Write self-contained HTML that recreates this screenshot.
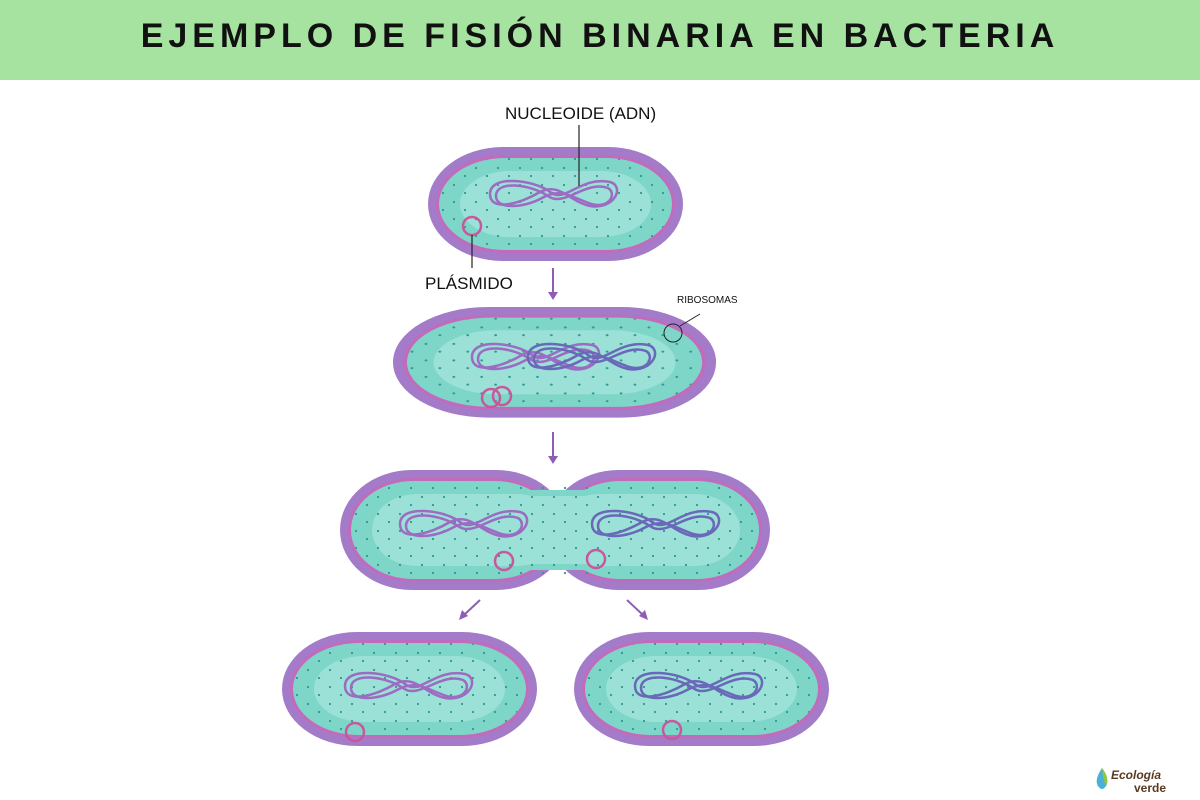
<!DOCTYPE html>
<html><head><meta charset="utf-8"><style>
body{margin:0;width:1200px;height:800px;background:#fff;overflow:hidden;font-family:"Liberation Sans",sans-serif}
.hdr{position:absolute;left:0;top:0;width:1200px;height:80px;background:#a6e3a1;text-align:center;line-height:72px;font-size:34px;font-weight:bold;letter-spacing:5px;color:#111}
svg{position:absolute;left:0;top:0}
</style></head><body>
<div class="hdr">EJEMPLO DE FISIÓN BINARIA EN BACTERIA</div>
<svg width="1200" height="800" viewBox="0 0 1200 800">
<defs>
<pattern id="dots" width="22" height="17" patternUnits="userSpaceOnUse"><circle cx="4" cy="4" r="1.1" fill="#2f9a8c"/><circle cx="15" cy="12" r="1.1" fill="#2f9a8c"/></pattern>
<g id="cell">
<rect x="0" y="0" width="255" height="114" rx="75" ry="57" fill="#a47bc8"/>
<rect x="8" y="8" width="239" height="98" rx="68" ry="49" fill="#c26bbd"/>
<rect x="11" y="11" width="233" height="92" rx="66" ry="46" fill="#7ed6c9"/>
<rect x="32" y="24" width="191" height="66" rx="50" ry="33" fill="#9be1d7"/>
<rect x="11" y="11" width="233" height="92" rx="66" ry="46" fill="url(#dots)"/>
</g>
<g id="dna" fill="none" stroke-width="2.5">
<path d="M0 12 C0 -8 45 -2 60 10 C75 22 90 -6 120 0 C135 4 125 28 100 24 C80 20 70 0 50 10 C30 22 0 30 0 12Z"/>
<path d="M6 14 C6 -2 40 2 58 14 C74 26 95 -2 118 6 C128 12 118 30 96 20 C80 14 70 6 52 16 C34 26 6 28 6 14Z"/>
</g>
</defs>
<use href="#cell" x="428" y="147"/>
<g stroke="#9b6cc2" transform="translate(490,182)"><use href="#dna"/></g>
<circle cx="472" cy="226" r="9" fill="none" stroke="#c9579e" stroke-width="2.5"/>
<line x1="579" y1="125" x2="579" y2="186" stroke="#222" stroke-width="1.2"/>
<line x1="472" y1="235" x2="472" y2="268" stroke="#222" stroke-width="1.2"/>
<text x="505" y="119" font-size="17" fill="#111">NUCLEOIDE (ADN)</text>
<text x="425" y="289" font-size="17" fill="#111">PLÁSMIDO</text>
<line x1="553" y1="268" x2="553" y2="294" stroke="#8d5db8" stroke-width="2"/><path d="M548 292 L553 300 L558 292Z" fill="#8d5db8"/>
<g transform="translate(393,307) scale(1.267,0.97)"><use href="#cell"/></g>
<g stroke="#9b6cc2" transform="translate(472,345)"><use href="#dna"/></g>
<g stroke="#6a68b8" transform="translate(528,345)"><use href="#dna"/></g>
<circle cx="491" cy="398" r="9" fill="none" stroke="#c9579e" stroke-width="2.5"/>
<circle cx="502" cy="396" r="9" fill="none" stroke="#c9579e" stroke-width="2.5"/>
<circle cx="673" cy="333" r="9" fill="none" stroke="#222" stroke-width="1"/>
<line x1="680" y1="326" x2="700" y2="314" stroke="#222" stroke-width="1"/>
<text x="677" y="303" font-size="10" fill="#111">RIBOSOMAS</text>
<line x1="553" y1="432" x2="553" y2="458" stroke="#8d5db8" stroke-width="2"/><path d="M548 456 L553 464 L558 456Z" fill="#8d5db8"/>
<rect x="340" y="470" width="228" height="120" rx="72" ry="60" fill="#a47bc8"/>
<rect x="547" y="470" width="223" height="120" rx="72" ry="60" fill="#a47bc8"/>
<rect x="348" y="478" width="212" height="104" rx="65" ry="52" fill="#c26bbd"/>
<rect x="555" y="478" width="207" height="104" rx="65" ry="52" fill="#c26bbd"/>
<rect x="351" y="481" width="206" height="98" rx="62" ry="49" fill="#7ed6c9"/>
<rect x="558" y="481" width="201" height="98" rx="62" ry="49" fill="#7ed6c9"/>
<rect x="520" y="490" width="75" height="80" fill="#7ed6c9"/>
<rect x="372" y="494" width="190" height="72" rx="45" ry="36" fill="#9be1d7"/>
<rect x="555" y="494" width="185" height="72" rx="45" ry="36" fill="#9be1d7"/>
<rect x="520" y="496" width="80" height="68" fill="#9be1d7"/>
<rect x="351" y="481" width="408" height="98" rx="62" ry="49" fill="url(#dots)"/>
<g stroke="#9b6cc2" transform="translate(400,512)"><use href="#dna"/></g>
<g stroke="#6a68b8" transform="translate(592,512)"><use href="#dna"/></g>
<circle cx="504" cy="561" r="9" fill="none" stroke="#c9579e" stroke-width="2.5"/>
<circle cx="596" cy="559" r="9" fill="none" stroke="#c9579e" stroke-width="2.5"/>
<line x1="480" y1="600" x2="464" y2="615" stroke="#8d5db8" stroke-width="2"/><path d="M459 620 L462 610 L468 616Z" fill="#8d5db8"/>
<line x1="627" y1="600" x2="643" y2="615" stroke="#8d5db8" stroke-width="2"/><path d="M648 620 L645 610 L639 616Z" fill="#8d5db8"/>
<use href="#cell" x="282" y="632"/>
<g stroke="#9b6cc2" transform="translate(345,674)"><use href="#dna"/></g>
<circle cx="355" cy="732" r="9" fill="none" stroke="#c9579e" stroke-width="2.5"/>
<use href="#cell" x="574" y="632"/>
<g stroke="#6a68b8" transform="translate(635,674)"><use href="#dna"/></g>
<circle cx="672" cy="730" r="9" fill="none" stroke="#c9579e" stroke-width="2.5"/>
<path d="M1102 768 Q1094 780 1098 786 Q1102 792 1106 786 Q1110 780 1102 768Z" fill="#4ab0d8"/>
<path d="M1102 768 Q1110 778 1106 786 Q1103 780 1102 768Z" fill="#8dc63f"/>
<text x="1111" y="779" font-size="12" font-style="italic" font-weight="bold" fill="#5a3a22">Ecología</text>
<text x="1134" y="792" font-size="12" font-weight="bold" fill="#5a3a22">verde</text>
</svg>
</body></html>
